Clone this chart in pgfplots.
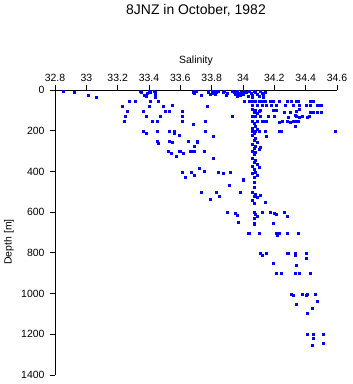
\documentclass[border=0pt]{standalone}
\usepackage{fontspec}
\setmainfont{Liberation Sans}
\usepackage{pgfplots}
\pgfplotsset{compat=1.18}
\usepackage{pgfplotstable}
\pgfplotstableread{
s d
32.85 3
32.92 11
33.01 23
33.06 33
33.34 3
33.35 11
33.37 23
33.38 29
33.39 16
33.40 3
33.41 11
33.43 3
33.44 11
33.44 23
33.41 53
33.44 36
33.46 53
33.68 11
33.69 3
33.69 15
33.70 5
33.73 23
33.78 3
33.78 12
33.79 20
33.80 5
33.80 15
33.81 8
33.82 3
33.82 18
33.83 10
33.84 5
33.87 8
33.88 3
33.90 16
33.89 25
33.93 3
33.94 12
33.95 20
33.96 5
33.97 15
33.98 25
33.99 8
34.00 18
34.01 3
34.02 12
34.03 28
33.96 28
34.04 5
34.05 15
34.06 25
34.07 3
34.08 12
34.09 20
34.10 30
34.11 5
34.12 15
34.13 25
34.14 8
34.13 35
34.06 35
33.77 77
33.23 77
33.27 53
33.31 53
33.26 105
33.25 129
33.24 154
33.36 105
33.38 129
33.40 77
33.49 77
33.50 102
33.53 105
33.55 75
33.42 154
33.45 154
33.47 129
33.61 105
33.61 129
33.61 154
33.68 167
33.36 203
33.38 210
33.45 203
33.45 252
33.46 260
33.53 203
33.56 203
33.56 211
33.59 223
33.53 252
33.55 256
33.65 252
33.71 252
33.69 275
33.52 301
33.54 308
33.57 326
33.59 301
33.60 301
33.62 311
33.66 301
33.69 301
33.61 404
33.63 429
33.67 404
33.69 416
33.72 385
34.01 53
34.04 53
34.06 53
34.08 53
34.10 53
34.12 53
34.14 53
34.17 53
34.19 53
34.23 53
34.28 53
34.31 53
34.34 53
34.35 53
34.43 53
34.45 53
34.06 74
34.09 74
34.12 74
34.15 74
34.18 74
34.21 74
34.27 74
34.32 74
34.36 74
34.40 74
34.43 74
34.47 74
34.50 74
34.48 74
34.06 95
34.08 100
34.10 105
34.07 110
34.09 113
34.11 98
34.19 101
34.21 101
34.26 107
34.30 107
34.34 102
34.36 95
34.43 107
34.45 107
34.47 107
34.50 107
33.93 128
34.06 128
34.08 128
34.11 128
34.16 128
34.20 128
34.29 131
34.33 123
34.34 128
34.36 131
34.38 128
34.41 131
34.42 128
33.76 152
34.06 152
34.09 152
34.12 152
34.15 152
34.23 156
34.25 152
34.28 152
34.30 156
34.32 152
34.34 152
34.35 152
34.14 152
34.33 177
34.06 201
34.08 201
34.10 201
34.14 201
34.24 201
34.23 201
34.59 201
34.15 226
33.81 226
33.76 201
34.07 165
34.08 175
34.06 185
34.09 190
34.07 210
34.06 220
34.08 235
34.07 246
34.09 255
34.06 265
34.08 275
34.07 285
34.10 292
34.06 300
34.08 305
34.07 315
34.06 335
34.08 345
34.07 355
34.09 365
34.06 375
34.07 390
34.08 403
34.06 410
34.09 418
34.07 428
34.07 454
34.07 478
34.06 501
34.08 510
34.07 520
34.09 526
34.06 541
34.07 557
34.07 600
34.08 610
34.09 620
34.07 630
34.07 655
34.11 279
34.10 380
33.71 256
33.68 300
33.75 300
33.81 336
33.72 382
33.75 398
33.84 404
33.87 409
33.92 404
34.00 437
34.00 444
33.73 503
33.83 503
33.85 519
33.98 503
33.79 537
33.91 468
33.90 601
33.95 603
33.96 616
33.97 647
34.11 517
34.14 552
34.12 601
34.17 601
34.20 603
34.21 611
34.26 601
34.28 621
34.19 655
34.07 660
34.03 701
34.04 704
34.10 701
34.21 701
34.22 713
34.23 701
34.28 701
34.35 701
34.11 802
34.12 812
34.15 802
34.28 802
34.29 802
34.33 802
34.33 812
34.40 802
34.40 827
34.19 852
34.34 861
34.21 901
34.24 901
34.33 901
34.36 901
34.43 901
34.31 1004
34.32 1009
34.38 1002
34.40 1007
34.41 1002
34.46 1002
34.47 1037
34.34 1053
34.44 1070
34.41 1096
34.41 1200
34.45 1200
34.45 1219
34.51 1200
34.44 1255
34.51 1245
}\ctddata
\begin{document}
\begin{tikzpicture}[x=1bp,y=1bp]
\useasboundingbox (0,0) rectangle (353,384);
\begin{axis}[
  at={(55bp,294bp)}, anchor=north west,
  scale only axis, width=282bp, height=285bp,
  xmin=32.8, xmax=34.6, ymin=0, ymax=1400,
  y dir=reverse,
  axis x line=top, axis y line=left,
  axis line style={-, line width=0.8bp},
  every tick/.style={black, line width=0.8bp},
  tick align=outside, major tick length=5bp,
  xtick={32.8,33,33.2,33.4,33.6,33.8,34,34.2,34.4,34.6},
  xticklabels={32.8,33,33.2,33.4,33.6,33.8,34,34.2,34.4,34.6},
  ytick={0,200,400,600,800,1000,1200,1400},
  yticklabels={0,200,400,600,800,1000,1200,1400},
  ticklabel style={font=\fontsize{10.5}{12}\selectfont},
  yticklabel style={xshift=-2bp},
  clip=false,
]
\addplot[only marks, mark=square*, mark size=1bp, mark options={line width=0.2bp}, color={rgb,255:red,0;green,0;blue,255}] table[x=s,y=d] {\ctddata};
\end{axis}
\node[font=\fontsize{14}{16}\selectfont] at (196,374) {8JNZ in October, 1982};
\node[font=\fontsize{10.5}{12}\selectfont] at (196,323) {Salinity};
\node[font=\fontsize{10.5}{12}\selectfont, rotate=90] at (9,142) {Depth [m]};
\end{tikzpicture}
\end{document}
